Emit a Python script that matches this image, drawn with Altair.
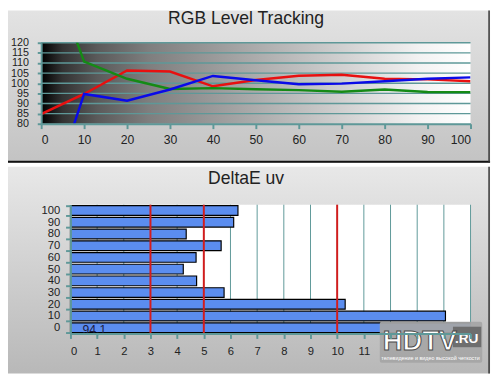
import altair as alt
import pandas as pd

# ---------------- data ----------------
levels = [0, 10, 20, 30, 40, 50, 60, 70, 80, 90, 100]
red = [84.8, 94.7, 106.3, 105.8, 98.5, 101.6, 103.7, 104.2, 102.2, 101.9, 101.0]
green = [168.0, 110.7, 102.2, 97.2, 97.6, 97.0, 96.6, 95.8, 96.9, 95.7, 95.6]
blue = [31.0, 94.7, 91.4, 96.9, 103.6, 101.5, 99.5, 99.8, 101.0, 102.2, 102.9]
rgb_names = ["Red", "Green", "Blue"]
rgb_colors = ["#e81010", "#158a15", "#0a0ae8"]
top_x_ticks = [0, 10, 20, 30, 40, 50, 60, 70, 80, 90, 100]
top_y_ticks = [80, 85, 90, 95, 100, 105, 110, 115, 120]

de_cats = ["100", "90", "80", "70", "60", "50", "40", "30", "20", "10", "0"]
de_vals = [6.28, 6.12, 4.34, 5.65, 4.71, 4.23, 4.73, 5.76, 10.3, 14.06, 94.1]
de_ticks = list(range(0, 16))
de_grid = list(range(1, 16))
de_refs = [3, 5, 10]
de_note = "94,1"

title_top = "RGB Level Tracking"
title_bottom = "DeltaE uv"

FONT = "Liberation Sans"
TEAL = "#5e9898"
TW, TH = 440, 83
BW, BH = 440, 132
FL = -34  # left edge of the panel frames, relative to the plot

one = pd.DataFrame({"a": [0]})

def vgrad(c1, c2):
    return alt.Gradient(gradient="linear", x1=0, x2=0, y1=0, y2=1,
                        stops=[alt.GradientStop(color=c1, offset=0),
                               alt.GradientStop(color=c2, offset=1)])

# ---------------- top chart ----------------
tx = alt.Scale(domain=[0, 100], nice=False, zero=False)
ty = alt.Scale(domain=[80, 120], nice=False, zero=False)
tx_axis = alt.Axis(
    values=top_x_ticks, title=None, grid=False, zindex=1,
    domainColor=TEAL, domainWidth=2, tickColor=TEAL, tickWidth=2, tickSize=5,
    labelFont=FONT, labelFontSize=12.5, labelColor="#222222", labelPadding=5,
    labelOverlap=False)
ty_axis = alt.Axis(
    values=top_y_ticks, title=None, grid=False, zindex=1,
    domainColor=TEAL, domainWidth=2, tickColor=TEAL, tickWidth=2, tickSize=4,
    labelFont=FONT, labelFontSize=11, labelColor="#222222", labelPadding=9,
    labelOverlap=False)

top_frame = alt.Chart(one).mark_rect(fill=vgrad("#e3e3e3", "#c3c3c3")).encode(
    x=alt.value(FL), x2=alt.value(460), y=alt.value(-33), y2=alt.value(123))

plot_bg = alt.Chart(one).mark_rect(fill=alt.Gradient(
    gradient="linear", x1=0, x2=1, y1=0, y2=0,
    stops=[alt.GradientStop(color="#000000", offset=0),
           alt.GradientStop(color="#333333", offset=0.05),
           alt.GradientStop(color="#5a5a5a", offset=0.13),
           alt.GradientStop(color="#7e7e7e", offset=0.25),
           alt.GradientStop(color="#a8a8a8", offset=0.48),
           alt.GradientStop(color="#d0d0d0", offset=0.7),
           alt.GradientStop(color="#f2f2f2", offset=0.88),
           alt.GradientStop(color="#ffffff", offset=1)])).encode(
    x=alt.value(0), x2=alt.value(TW), y=alt.value(0), y2=alt.value(TH))

grid_df = pd.DataFrame({"value": top_y_ticks[1:]})
top_grid = alt.Chart(grid_df).mark_rule(color=TEAL, strokeWidth=1.3).encode(
    y=alt.Y("value:Q", scale=ty, axis=ty_axis))

rows = []
for name, vals in zip(rgb_names, [red, green, blue]):
    for lv, v in zip(levels, vals):
        rows.append({"level": lv, "value": v, "series": name})
line_df = pd.DataFrame(rows)

lines = alt.Chart(line_df).mark_line(clip=True, strokeWidth=2.5).encode(
    x=alt.X("level:Q", scale=tx, axis=tx_axis),
    y=alt.Y("value:Q", scale=ty, axis=ty_axis),
    color=alt.Color("series:N", scale=alt.Scale(domain=rgb_names, range=rgb_colors), legend=None),
    detail="series:N",
)

top_title = alt.Chart(one).mark_text(
    text=title_top, font=FONT, fontSize=18, color="#222222",
    align="center", baseline="alphabetic").encode(x=alt.value(210), y=alt.value(-19))

sep = alt.Chart(one).mark_rule(color="#111111", strokeWidth=2).encode(
    x=alt.value(FL), x2=alt.value(460), y=alt.value(122))
top_rborder = alt.Chart(one).mark_rule(color="#333333", strokeWidth=1.5).encode(
    x=alt.value(459), y=alt.value(-33), y2=alt.value(123))

top = alt.layer(top_frame, plot_bg, top_grid, lines, top_title, sep, top_rborder).properties(
    width=TW, height=TH)

# ---------------- bottom chart ----------------
bx = alt.Scale(domain=[0, 15], range=[30, 440], nice=False, zero=True)
by = alt.Scale(domain=de_cats, paddingInner=0.17, paddingOuter=0.08)
bx_axis = alt.Axis(
    values=de_ticks, title=None, grid=False, zindex=1,
    domainColor=TEAL, domainWidth=2, tickColor=TEAL, tickWidth=2, tickSize=5,
    labelFont=FONT, labelFontSize=11.5, labelColor="#222222", labelPadding=7,
    labelOverlap=False, labelExpr="datum.value >= 12 ? '' : datum.label")
by_axis = alt.Axis(
    title=None, grid=False, zindex=1, offset=-30, tickBand="extent",
    domainColor=TEAL, domainWidth=2, tickColor=TEAL, tickWidth=2, tickSize=5,
    labelFont=FONT, labelFontSize=11.5, labelColor="#222222", labelPadding=6,
    labelOverlap=False)

bot_frame = alt.Chart(one).mark_rect(fill=vgrad("#e8e8e8", "#b8b8b8")).encode(
    x=alt.value(FL), x2=alt.value(460), y=alt.value(-39), y2=alt.value(173))

white_bg = alt.Chart(one).mark_rect(fill="white").encode(
    x=alt.X(datum=0, scale=bx, axis=bx_axis), x2=alt.X2(datum=15),
    y=alt.value(0), y2=alt.value(BH))

bgrid = alt.Chart(pd.DataFrame({"val": de_grid})).mark_rule(color=TEAL, strokeWidth=1).encode(
    x=alt.X("val:Q", scale=bx, axis=bx_axis))

bar_df = pd.DataFrame({"cat": de_cats, "val": de_vals})
bars = alt.Chart(bar_df).mark_bar(color="#5b8def", stroke="#000000", strokeWidth=1.2, clip=True).encode(
    x=alt.X("val:Q", scale=bx, axis=bx_axis),
    y=alt.Y("cat:N", scale=by, axis=by_axis),
)

refs = alt.Chart(pd.DataFrame({"val": de_refs})).mark_rule(color="#d41c1c", strokeWidth=2).encode(
    x=alt.X("val:Q", scale=bx, axis=bx_axis))

note = alt.Chart(pd.DataFrame({"cat": ["0"], "val": [0.45], "t": [de_note]})).mark_text(
    align="left", baseline="middle", font=FONT, fontSize=12.5, color="#1c1c44", dy=2).encode(
    x=alt.X("val:Q", scale=bx, axis=bx_axis), y=alt.Y("cat:N", scale=by, axis=by_axis), text="t:N")

bot_title = alt.Chart(one).mark_text(
    text=title_bottom, font=FONT, fontSize=18, color="#222222",
    align="center", baseline="alphabetic").encode(x=alt.value(210), y=alt.value(-21))

logo_bg = alt.Chart(one).mark_rect(fill="#a6a6a6", opacity=0.93, cornerRadius=2).encode(
    x=alt.value(347), x2=alt.value(452), y=alt.value(120), y2=alt.value(162))
logo_rubg = alt.Chart(one).mark_rect(fill="#6e6e6e").encode(
    x=alt.value(422), x2=alt.value(451), y=alt.value(125), y2=alt.value(146))
logo_main = alt.Chart(one).mark_text(
    text="HDTV", font=FONT, fontWeight="bold", fontSize=28, fill="white",
    stroke="#4a4a4a", strokeWidth=1, align="left", baseline="alphabetic").encode(
    x=alt.value(350), y=alt.value(149))
logo_ru = alt.Chart(one).mark_text(
    text=".RU", font=FONT, fontWeight="bold", fontSize=14, fill="white",
    align="left", baseline="alphabetic").encode(
    x=alt.value(424), y=alt.value(142))
logo_cap = alt.Chart(one).mark_text(
    text="телевидение и видео высокой четкости", font=FONT, fontSize=5.5,
    fill="white", align="center", baseline="alphabetic").encode(
    x=alt.value(399), y=alt.value(159))

bot_rborder = alt.Chart(one).mark_rule(color="#333333", strokeWidth=1.5).encode(
    x=alt.value(459), y=alt.value(-39), y2=alt.value(173))

bottom = alt.layer(bot_frame, white_bg, bgrid, bars, refs, note, bot_title,
                   logo_bg, logo_rubg, logo_main, logo_ru, logo_cap, bot_rborder).properties(
    width=BW, height=BH)

chart = alt.vconcat(top, bottom, spacing=0).properties(
    padding={"left": -2, "top": -4, "right": 0, "bottom": 0}).configure_view(
    strokeWidth=0).configure(font=FONT)

chart.save("out.html", embed_options={"renderer": "svg", "actions": False})
